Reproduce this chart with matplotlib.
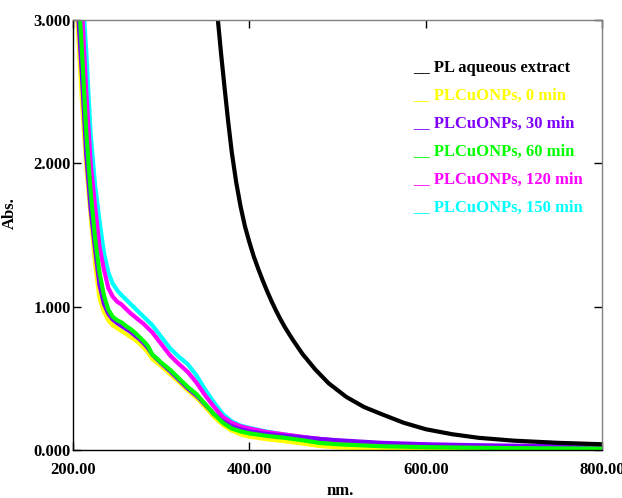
import numpy as np
import matplotlib
matplotlib.use("Agg")
import matplotlib.pyplot as plt

plt.rcParams['font.family'] = ['Liberation Serif', 'DejaVu Serif']
plt.rcParams['font.weight'] = 'bold'

# PL aqueous extract
nm_pl = [361, 364, 368, 372, 376, 380, 385, 390, 395, 400, 405, 410, 415, 420, 425, 430, 435,
         440, 445, 450, 460, 475, 490, 510, 530, 550, 575, 600, 630, 660, 700, 750, 800]
abs_pl = [3.25, 3.02, 2.76, 2.52, 2.29, 2.08, 1.87, 1.70, 1.56, 1.45, 1.35, 1.265, 1.185,
          1.11, 1.04, 0.975, 0.915, 0.86, 0.81, 0.762, 0.672, 0.56, 0.465, 0.37, 0.30, 0.25,
          0.19, 0.145, 0.11, 0.085, 0.065, 0.05, 0.04]

# PLCuONPs samples, shared wavelength grid
nm_np = [200, 205, 210, 215, 220, 225, 230, 235, 240, 245, 250, 255, 260, 265, 270, 275, 280,
         285, 290, 295, 300, 310, 320, 330, 340, 350, 360, 370, 380, 390, 400, 420, 440, 460,
         480, 500, 550, 600, 650, 700, 750, 800]

abs_0 = [3.6, 3.0, 2.44, 1.98, 1.63, 1.30, 1.06, 0.965, 0.905, 0.87, 0.85, 0.83, 0.81, 0.79,
         0.77, 0.745, 0.715, 0.68, 0.635, 0.61, 0.585, 0.53, 0.475, 0.415, 0.365, 0.30, 0.23,
         0.175, 0.135, 0.11, 0.093, 0.075, 0.061, 0.045, 0.028, 0.018, 0.007, 0.003, 0.0,
         0.0, 0.0, 0.0]
abs_30 = [3.5, 3.12, 2.62, 2.06, 1.68, 1.40, 1.15, 1.02, 0.95, 0.91, 0.885, 0.865, 0.845,
          0.825, 0.80, 0.775, 0.745, 0.71, 0.665, 0.635, 0.605, 0.55, 0.49, 0.43, 0.38, 0.315,
          0.25, 0.20, 0.165, 0.145, 0.13, 0.112, 0.10, 0.088, 0.077, 0.068, 0.05, 0.04, 0.034,
          0.03, 0.027, 0.025]
abs_60 = [3.55, 3.3, 2.8, 2.22, 1.80, 1.48, 1.24, 1.08, 0.98, 0.93, 0.905, 0.89, 0.865,
          0.845, 0.82, 0.79, 0.76, 0.725, 0.665, 0.64, 0.61, 0.56, 0.50, 0.44, 0.39, 0.32,
          0.25, 0.19, 0.15, 0.13, 0.116, 0.098, 0.085, 0.068, 0.049, 0.04, 0.026, 0.02,
          0.016, 0.013, 0.011, 0.01]
abs_120 = [3.7, 3.5, 3.1, 2.5, 2.0, 1.70, 1.42, 1.26, 1.13, 1.07, 1.035, 1.015, 0.985, 0.955,
           0.93, 0.905, 0.88, 0.85, 0.82, 0.78, 0.74, 0.66, 0.60, 0.545, 0.47, 0.38, 0.30,
           0.23, 0.19, 0.165, 0.15, 0.125, 0.108, 0.092, 0.077, 0.065, 0.045, 0.035, 0.028,
           0.024, 0.021, 0.019]
abs_150 = [3.8, 3.6, 3.25, 2.78, 2.2, 1.85, 1.60, 1.38, 1.24, 1.16, 1.115, 1.08, 1.05, 1.02,
           0.99, 0.96, 0.93, 0.90, 0.87, 0.83, 0.79, 0.71, 0.65, 0.60, 0.52, 0.42, 0.33,
           0.25, 0.20, 0.17, 0.155, 0.128, 0.108, 0.09, 0.075, 0.062, 0.043, 0.032, 0.026,
           0.022, 0.019, 0.017]

labels = ['PL aqueous extract', 'PLCuONPs, 0 min', 'PLCuONPs, 30 min',
          'PLCuONPs, 60 min', 'PLCuONPs, 120 min', 'PLCuONPs, 150 min']
colors = ['#000000', '#FFFF00', '#8000FF', '#00FF00', '#FF00FF', '#00FFFF']

fig = plt.figure(figsize=(6.22, 4.98), dpi=100)
ax = fig.add_axes([0.1174, 0.0964, 0.8505, 0.8635])

# drawing order so the overlaps look like the original
ax.plot(nm_np, abs_0, color=colors[1], lw=3)
ax.plot(nm_np, abs_150, color=colors[5], lw=3)
ax.plot(nm_np, abs_120, color=colors[4], lw=3)
ax.plot(nm_np, abs_30, color=colors[2], lw=3)
ax.plot(nm_np, abs_60, color=colors[3], lw=3)
ax.plot(nm_pl, abs_pl, color=colors[0], lw=3)

ax.set_xlim(200, 800)
ax.set_ylim(0, 3)
ax.set_xticks([200, 400, 600, 800])
ax.set_xticklabels(['200.00', '400.00', '600.00', '800.00'])
ax.set_yticks([0, 1, 2, 3])
ax.set_yticklabels(['0.000', '1.000', '2.000', '3.000'])
ax.tick_params(direction='in', length=6, width=1, labelsize=12, top=True, right=True)
ax.tick_params(axis='x', pad=9)
ax.tick_params(axis='y', pad=1.5)
for s in ['top', 'right']:
    ax.spines[s].set_color('#808080')
for s in ax.spines.values():
    s.set_linewidth(1)

ax.set_xlabel('nm.', fontsize=12, fontweight='bold')
ax.set_ylabel('Abs.', fontsize=12, fontweight='bold')
ax.xaxis.set_label_coords(0.505, -0.076)
ax.yaxis.set_label_coords(-0.104, 0.55)

for i, (lab, c) in enumerate(zip(labels, colors)):
    ax.text(0.643, 0.880 - i * 0.0653, '__ ' + lab, color=c, fontsize=12,
            fontweight='bold', transform=ax.transAxes, va='baseline', ha='left')

fig.savefig('out.png', dpi=100)
